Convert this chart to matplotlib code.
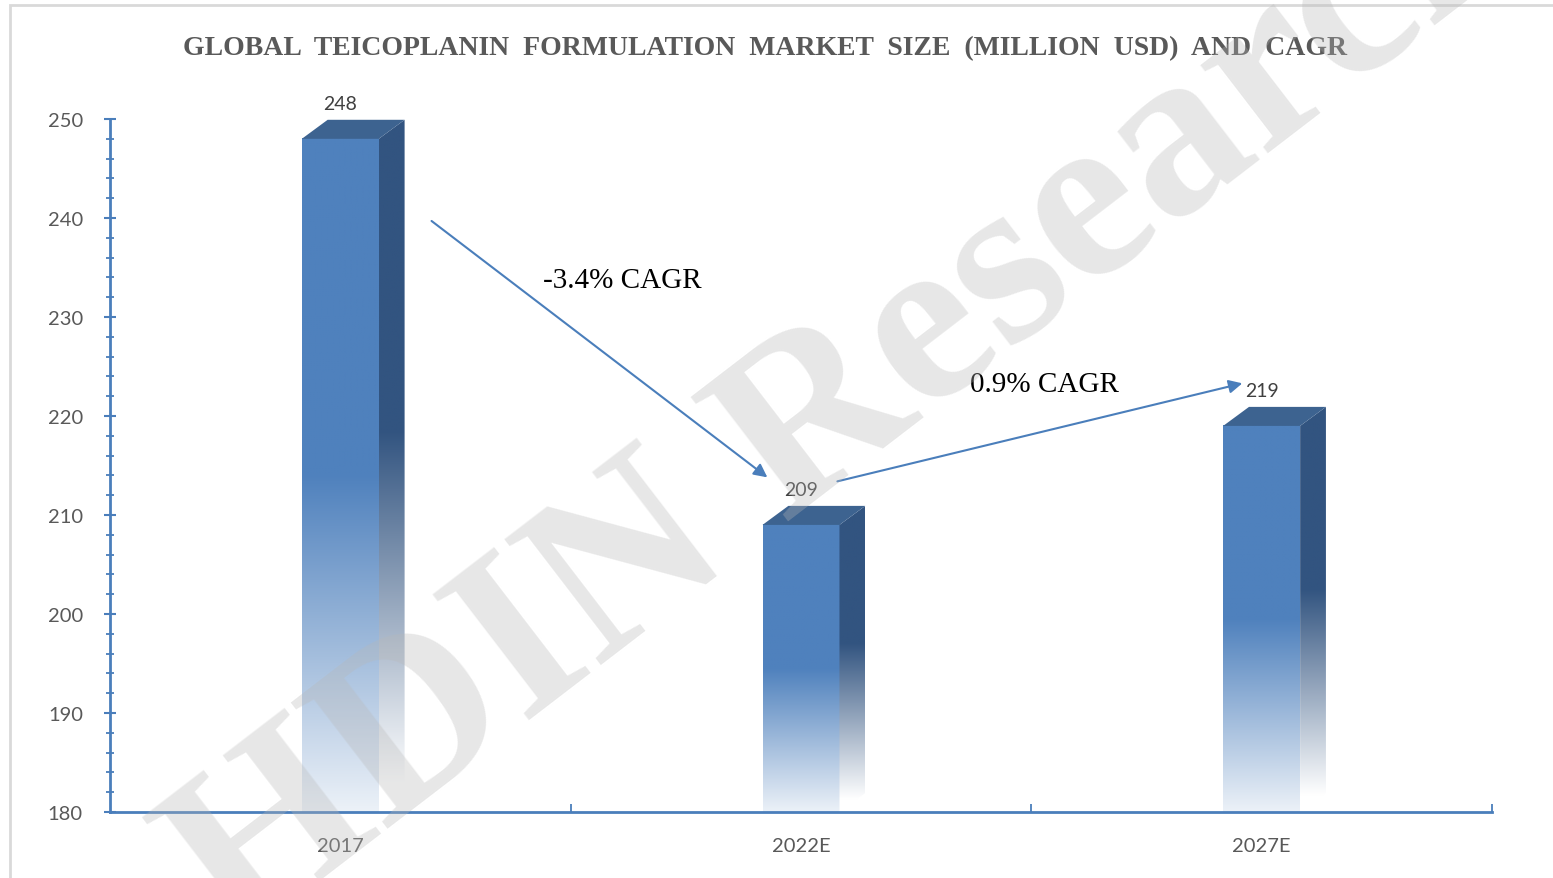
import numpy as np
import matplotlib
matplotlib.use('Agg')
import matplotlib.pyplot as plt
from matplotlib.patches import Polygon, Rectangle
from matplotlib.colors import to_rgb
from matplotlib.ticker import MultipleLocator, FixedLocator

# ---- data ----
categories = ['2017', '2022E', '2027E']
values = [248, 209, 219]
cagr_labels = ['-3.4% CAGR', '0.9% CAGR']
y_ticks = [180, 190, 200, 210, 220, 230, 240, 250]
title = 'GLOBAL  TEICOPLANIN  FORMULATION  MARKET  SIZE  (MILLION  USD)  AND  CAGR'
watermark = 'HDIN Research'

# ---- styles ----
W, H = 1553, 879
FRONT = '#4f81bd'
SIDE = '#325480'
TOP = '#3d6390'
AXIS_C = '#4a7ebb'
LABEL_C = '#595959'
SANS = ['Lato', 'DejaVu Sans']
SERIF = ['Liberation Serif', 'DejaVu Serif']

fig = plt.figure(figsize=(W / 100, H / 100), dpi=100)
ax = fig.add_axes([110 / W, 1 - 813 / H, (1492 - 110) / W, (813 - 120) / H])
ymin, ymax = y_ticks[0], y_ticks[-1]
bw = 0.167      # front face width (category units)
ddx = 0.056     # depth in x
ddy = 1.92      # depth in y (value units)


def gradient(color, solid_from, white_at, n=300):
    f = np.linspace(0, 1, n)
    t = np.clip((f - white_at) / (solid_from - white_at), 0, 1)
    c = np.array(to_rgb(color))
    rgb = (1 - t)[:, None] * np.ones(3)[None, :] + t[:, None] * c[None, :]
    return rgb[:, None, :]


for i, v in enumerate(values):
    x0, x1 = i - bw / 2, i + bw / 2
    # front face
    ax.imshow(gradient(FRONT, 0.5, -0.06), extent=(x0, x1, ymin, v), origin='lower',
              aspect='auto', interpolation='bilinear', zorder=2)
    # side face
    side_poly = Polygon([(x1, ymin), (x1 + ddx, ymin + ddy), (x1 + ddx, v + ddy), (x1, v)],
                        closed=True, transform=ax.transData, facecolor='none', edgecolor='none')
    ax.add_patch(side_poly)
    im = ax.imshow(gradient(SIDE, 0.55, 0.04), extent=(x1, x1 + ddx, ymin, v + ddy), origin='lower',
                   aspect='auto', interpolation='bilinear', zorder=2)
    im.set_clip_path(side_poly)
    # top face
    ax.add_patch(Polygon([(x0, v), (x1, v), (x1 + ddx, v + ddy), (x0 + ddx, v + ddy)],
                         closed=True, facecolor=TOP, edgecolor='none', zorder=3))
    # value label
    ax.annotate(str(v), xy=(i, v + ddy), xytext=(0, 11.5), textcoords='offset points',
                ha='center', va='center', fontsize=14, family=SANS, color='#404040',
                annotation_clip=False)

ax.set_xlim(-0.5, len(categories) - 0.5)
ax.set_ylim(ymin, ymax)

# CAGR arrows and labels
arrow_kw = dict(arrowstyle='-|>', color=AXIS_C, lw=1.5, mutation_scale=20, shrinkA=0, shrinkB=0)
ax.annotate('', xy=(0.927, values[1] + 4.8), xytext=(0.198, values[0] - 8.3), arrowprops=arrow_kw,
            annotation_clip=False)
ax.annotate('', xy=(1.958, values[2] + 4.3), xytext=(1.079, values[1] + 4.4), arrowprops=arrow_kw,
            annotation_clip=False)
ax.text(0.613, 233.7, cagr_labels[0], ha='center', va='center', fontsize=21, family=SERIF, color='black')
ax.text(1.528, 223.2, cagr_labels[1], ha='center', va='center', fontsize=21, family=SERIF, color='black')

# axes styling
for s in ['top', 'right']:
    ax.spines[s].set_visible(False)
for s in ['left', 'bottom']:
    ax.spines[s].set_color(AXIS_C)
    ax.spines[s].set_linewidth(2)

ax.set_yticks(y_ticks)
ax.set_yticklabels([str(t) for t in y_ticks])
ax.yaxis.set_minor_locator(MultipleLocator(2))
ax.tick_params(axis='y', which='major', direction='inout', length=9, width=1.5, color=AXIS_C,
               pad=15, labelsize=14.5, labelcolor=LABEL_C)
ax.tick_params(axis='y', which='minor', direction='inout', length=5.5, width=1.3, color=AXIS_C)

ax.set_xticks(range(len(categories)))
ax.set_xticklabels(categories)
ax.xaxis.set_minor_locator(FixedLocator([0.5, 1.5, 2.5]))
ax.tick_params(axis='x', which='major', length=0, pad=18, labelsize=14.5, labelcolor=LABEL_C)
ax.tick_params(axis='x', which='minor', direction='in', length=6, width=1.3, color=AXIS_C)
for lab in ax.get_xticklabels() + ax.get_yticklabels():
    lab.set_family(SANS)

# title
fig.text(765 / W, 1 - 49 / H, title, ha='center', va='center', fontsize=20, weight='bold',
         family=SERIF, color=LABEL_C)

# frame
fig.patches.append(Rectangle((10 / W, -0.1), 1.2, 1.1 - 6 / H, transform=fig.transFigure,
                             fill=False, edgecolor='#d9d9d9', lw=2))

# watermark
fig.text(850 / W, 1 - 400 / H, watermark, rotation=37.5, rotation_mode='anchor', ha='center', va='center',
         fontsize=174, weight='bold', family=SERIF, color='#b8b8b8', alpha=0.33, zorder=10)

fig.savefig('out.png', dpi=100)
